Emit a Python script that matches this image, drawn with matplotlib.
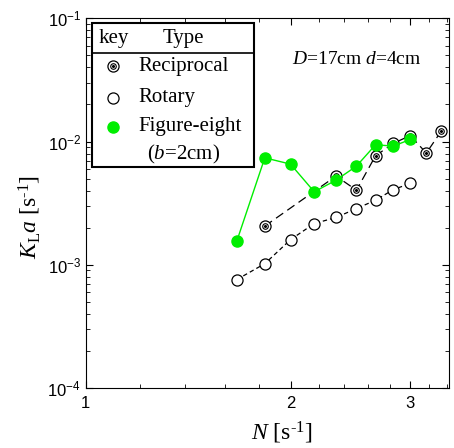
import matplotlib
matplotlib.use('Agg')
import matplotlib.pyplot as plt
from matplotlib.patches import Rectangle
from matplotlib.ticker import FixedLocator, NullFormatter
import numpy as np

plt.rcParams['font.family'] = 'Liberation Serif'
plt.rcParams['mathtext.fontset'] = 'custom'
plt.rcParams['mathtext.rm'] = 'Liberation Serif'
plt.rcParams['mathtext.it'] = 'Liberation Serif:italic'

# rotation speed N [1/s]
n_recip = [1.833, 2.333, 2.5, 2.667, 2.833, 3.0, 3.167, 3.333]
kla_recip = [0.00206, 0.00525, 0.00403, 0.00767, 0.00967, 0.0112, 0.00806, 0.0122]

n_rot = [1.667, 1.833, 2.0, 2.167, 2.333, 2.5, 2.667, 2.833, 3.0]
kla_rot = [0.000758, 0.00102, 0.0016, 0.00216, 0.00242, 0.00286, 0.00334, 0.00408, 0.00457]

n_fig8 = [1.667, 1.833, 2.0, 2.167, 2.333, 2.5, 2.667, 2.833, 3.0]
kla_fig8 = [0.00155, 0.00738, 0.00656, 0.00391, 0.00486, 0.00632, 0.00942, 0.00919, 0.0104]

legend_labels = ['Reciprocal', 'Rotary', 'Figure-eight']

fig = plt.figure(figsize=(4.54, 4.48), dpi=100)
ax = fig.add_axes([0.189, 0.134, 0.800, 0.825])

# rotary: short dashes
ax.plot(n_rot, kla_rot, color='black', lw=0.9, dashes=(3.5, 2.5),
        marker='o', ms=8, mfc='white', mec='black', mew=0.9, zorder=2)
# reciprocal: long dashes, double circle
ax.plot(n_recip, kla_recip, color='black', lw=0.9, dashes=(7, 4),
        marker='o', ms=8, mfc='white', mec='black', mew=0.9, zorder=3)
ax.plot(n_recip, kla_recip, ls='none', marker='o', ms=4, mfc='white',
        mec='black', mew=0.8, zorder=3)
ax.plot(n_recip, kla_recip, ls='none', marker='o', ms=1.2, color='black', zorder=3)
# figure-eight
ax.plot(n_fig8, kla_fig8, color='#00ee00', lw=1.0, marker='o', ms=8,
        mfc='#00ee00', mec='#00ee00', zorder=4)

ax.set_xscale('log')
ax.set_yscale('log')
ax.set_xlim(1, 3.42)
ax.set_ylim(1e-4, 1e-1)

ax.xaxis.set_major_locator(FixedLocator([1, 2, 3]))
ax.set_xticklabels(['1', '2', '3'])
ax.xaxis.set_minor_locator(FixedLocator([1.2, 1.4, 1.6, 1.8, 2.2, 2.4, 2.6, 2.8, 3.2, 3.4]))
ax.xaxis.set_minor_formatter(NullFormatter())

ax.tick_params(which='both', direction='in', top=True, right=True,
               labelfontfamily='Liberation Sans', labelsize=12)
ax.tick_params(which='major', length=5, width=0.8)
ax.tick_params(which='minor', length=3, width=0.6)
ax.tick_params(axis='x', pad=6)

ax.set_xlabel(r'$N$ [s$^{\text{-1}}$]', fontsize=17)
ax.xaxis.set_label_coords(0.54, -0.086)
ax.set_ylabel(r'$K_{\rm L}a$ [s$^{\text{-1}}$]', fontsize=17)
ax.yaxis.set_label_coords(-0.119, 0.463)

ax.text(0.925, 0.888, r'$D$=17cm $d$=4cm', transform=ax.transAxes,
        ha='right', va='center', fontsize=14)

# hand-made key box
ax.add_patch(Rectangle((0.016, 0.598), 0.447, 0.390, transform=ax.transAxes,
                       fill=True, fc='white', ec='black', lw=1.5, zorder=5))
ax.plot([0.016, 0.463], [0.906, 0.906], transform=ax.transAxes,
        color='black', lw=1.2, zorder=6)
ax.text(0.035, 0.946, 'key', transform=ax.transAxes, ha='left', va='center',
        fontsize=15, zorder=6)
ax.text(0.27, 0.946, 'Type', transform=ax.transAxes, ha='center', va='center',
        fontsize=15, zorder=6)

mx = 0.075
rows = [0.870, 0.785, 0.707]
ax.plot(mx, rows[0], transform=ax.transAxes, marker='o', ms=8, mfc='white',
        mec='black', mew=0.9, zorder=6)
ax.plot(mx, rows[0], transform=ax.transAxes, marker='o', ms=4, mfc='white',
        mec='black', mew=0.8, zorder=6)
ax.plot(mx, rows[0], transform=ax.transAxes, marker='o', ms=1.2, color='black', zorder=6)
ax.plot(mx, rows[1], transform=ax.transAxes, marker='o', ms=8, mfc='white',
        mec='black', mew=0.9, zorder=6)
ax.plot(mx, rows[2], transform=ax.transAxes, marker='o', ms=8, mfc='#00ee00',
        mec='#00ee00', zorder=6)
for y, lab in zip(rows, legend_labels):
    ax.text(0.146, y, lab, transform=ax.transAxes, ha='left', va='center',
            fontsize=15, zorder=6)
ax.text(0.27, 0.632, r'($b$=2cm)', transform=ax.transAxes, ha='center',
        va='center', fontsize=15, zorder=6)

for s in ax.spines.values():
    s.set_linewidth(0.8)

fig.savefig('out.png', dpi=100)
